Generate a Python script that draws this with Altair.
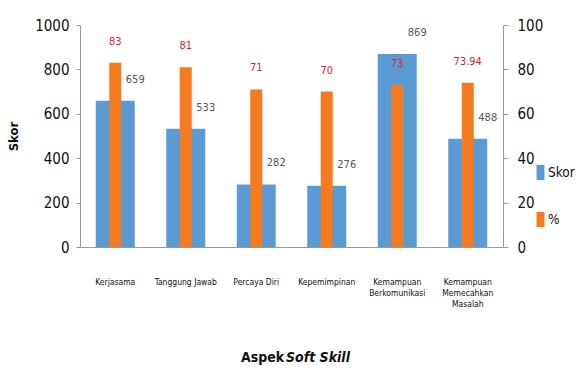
import altair as alt
import pandas as pd

categories = ["Kerjasama", "Tanggung Jawab", "Percaya Diri", "Kepemimpinan",
              "Kemampuan Berkomunikasi", "Kemampuan Memecahkan Masalah"]
skor = [659, 533, 282, 276, 869, 488]
persen = [83, 81, 71, 70, 73, 73.94]
persen_labels = ["83", "81", "71", "70", "73", "73.94"]

df = pd.DataFrame({"Aspek": categories, "Skor": skor, "Persen": persen, "PLabel": persen_labels})

FONT = "DejaVu Sans Condensed"
BLUE = "#5B9BD5"
ORANGE = "#F47B20"

xenc = alt.X("Aspek:N", sort=categories,
             scale=alt.Scale(paddingInner=0, paddingOuter=0),
             axis=alt.Axis(title=None, labelAngle=0, ticks=False, labelPadding=30,
                           labelFontSize=8.5, labelFont=FONT, labelColor="#111",
                           domainColor="#999", labelLimit=200, labelLineHeight=11,
                           labelExpr="indexof(datum.label,'Kemampuan')==0 ? split(datum.label,' ') : datum.label"))

color_scale = alt.Scale(domain=["Skor", "%"], range=[BLUE, ORANGE])
legend = alt.Legend(title=None, orient="none", legendX=453, legendY=140,
                    symbolType="M-0.53,-1h1.06v2h-1.06Z",
                    symbolSize=225, labelFontSize=13.5, labelFont=FONT, rowPadding=32,
                    labelOffset=0, symbolStrokeWidth=0, labelColor="#111")

base = alt.Chart(df)

blue_bar = base.transform_calculate(series="'Skor'").mark_bar(size=39).encode(
    x=xenc,
    y=alt.Y("Skor:Q", scale=alt.Scale(domain=[0, 1000]),
            axis=alt.Axis(orient="left", values=[0, 200, 400, 600, 800, 1000], grid=False,
                          format="d",
                          title="Skor", titleFontWeight="bold", titleFontSize=13, titleFont=FONT,
                          titleX=-60, titleColor="#111",
                          labelFontSize=15, labelFont=FONT, labelColor="#111", labelPadding=7,
                          tickSize=4, domainColor="#999", tickColor="#999")),
    color=alt.Color("series:N", scale=color_scale, legend=legend),
)
blue_text = base.mark_text(dx=20, dy=-21, fontSize=11, font=FONT, color="#555").encode(
    x=xenc,
    y=alt.Y("Skor:Q", scale=alt.Scale(domain=[0, 1000])),
    text="Skor:Q",
)

orange_bar = base.transform_calculate(series="'%'").mark_bar(size=12).encode(
    x=xenc,
    y=alt.Y("Persen:Q", scale=alt.Scale(domain=[0, 100]),
            axis=alt.Axis(orient="right", values=[0, 20, 40, 60, 80, 100], grid=False, title=None,
                          labelFontSize=15, labelFont=FONT, labelColor="#111", labelPadding=9,
                          tickSize=5, domainColor="#999", tickColor="#999")),
    color=alt.Color("series:N", scale=color_scale, legend=legend),
)
orange_text = base.mark_text(dy=-21, fontSize=11, font=FONT, color="#E0202A").encode(
    x=xenc,
    y=alt.Y("Persen:Q", scale=alt.Scale(domain=[0, 100])),
    text="PLabel:N",
)

title1 = alt.Chart(pd.DataFrame({"t": ["Aspek"]})).mark_text(
    align="left", baseline="middle", fontSize=14, font=FONT, fontWeight="bold", color="#111"
).encode(x=alt.value(161), y=alt.value(333), text="t:N")
title2 = alt.Chart(pd.DataFrame({"t": ["Soft Skill"]})).mark_text(
    align="left", baseline="middle", fontSize=14, font=FONT, fontWeight="bold",
    fontStyle="italic", color="#111"
).encode(x=alt.value(206), y=alt.value(333), text="t:N")

left = alt.layer(blue_bar, blue_text)
right = alt.layer(orange_bar, orange_text)

chart = alt.layer(left, right, title1, title2).resolve_scale(y="independent").properties(
    width=423, height=222,
    autosize=alt.AutoSizeParams(type="none"),
    padding={"left": 80, "top": 25, "right": 76, "bottom": 127},
).configure_view(stroke=None)

chart.save("out.html", embed_options={"renderer": "svg", "actions": False})
